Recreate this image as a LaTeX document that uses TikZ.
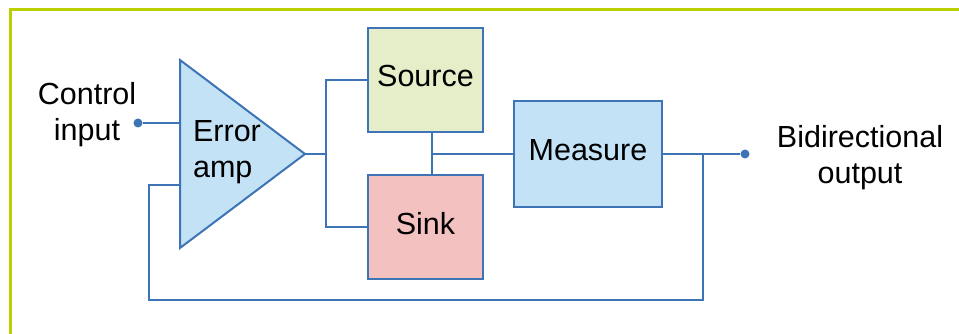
\documentclass[tikz,border=0pt]{standalone}
\usepackage{fontspec}
\setmainfont{Liberation Sans}
\usetikzlibrary{shapes.geometric,positioning}
\definecolor{wireblue}{HTML}{3D74B5}
\definecolor{ampfill}{HTML}{C4E2F5}
\definecolor{srcfill}{HTML}{E6EDC9}
\definecolor{snkfill}{HTML}{F3C1C0}
\definecolor{framegreen}{HTML}{BCCF00}

\begin{document}
\begin{tikzpicture}[
    x=1pt, y=-1pt,
    font=\fontsize{30.5}{36}\selectfont,
    wire/.style={draw=wireblue, line width=2pt},
    blk/.style={
      rectangle, draw=wireblue, line width=2pt,
      minimum width=115pt, minimum height=104pt,
      text depth=8pt, inner sep=0pt, outer sep=0pt
    },
    ampbox/.style={
      isosceles triangle, isosceles triangle stretches,
      shape border rotate=0, draw=wireblue, fill=ampfill, line width=2pt,
      minimum width=188pt, minimum height=125pt,
      inner sep=0pt, outer sep=0pt
    },
    pin/.style={circle, fill=wireblue, minimum size=9pt, inner sep=0pt},
    lbl/.style={align=center, inner sep=0pt}
  ]
    \useasboundingbox (0,0) rectangle (959,334);
    % Outer frame (open to the right and bottom)
    \draw[framegreen, line width=3pt] (10,345) |- (970,10);

    % Error amplifier
    \node[ampbox, anchor=apex] (amp) at (305,154) {};
    \node[lbl, align=left] (amptxt) at (227,152) {Error\\amp};

    % Control input
    \node[pin] (cin) at (138,123) {};
    \node[lbl] (cinlbl) at (87,115) {Control\\input};
    \draw[wire] (cin) -- (cin -| amp.lower side);

    % Source / sink pair
    \node[blk, fill=srcfill] (src) at (425.5,80) {Source};
    \node[blk, fill=snkfill, below=43pt of src] (snk) {Sink};
    \coordinate (split) at (326,154);
    \draw[wire] (amp.apex) -- (split);
    \draw[wire] (src.west) -| (split) |- (snk.west);

    % Measure block and output
    \node[blk, fill=ampfill, minimum width=148pt, minimum height=105pt]
      (meas) at (588,154) {Measure};
    \coordinate (tap) at (432,154);
    \draw[wire] (src.south -| tap) -- (snk.north -| tap);
    \draw[wire] (tap) -- (meas.west);
    \node[pin] (cout) at (745,154) {};
    \node[lbl] (coutlbl) at (860,158) {Bidirectional\\output};
    \draw[wire] (meas.east) -- (cout);

    % Feedback loop back into the amplifier
    \coordinate (fb) at (703,154);
    \coordinate (fbleft) at (149,300);
    \draw[wire] (fb) |- (fbleft) |- (amp.lower side |- 0,185);
\end{tikzpicture}
\end{document}
